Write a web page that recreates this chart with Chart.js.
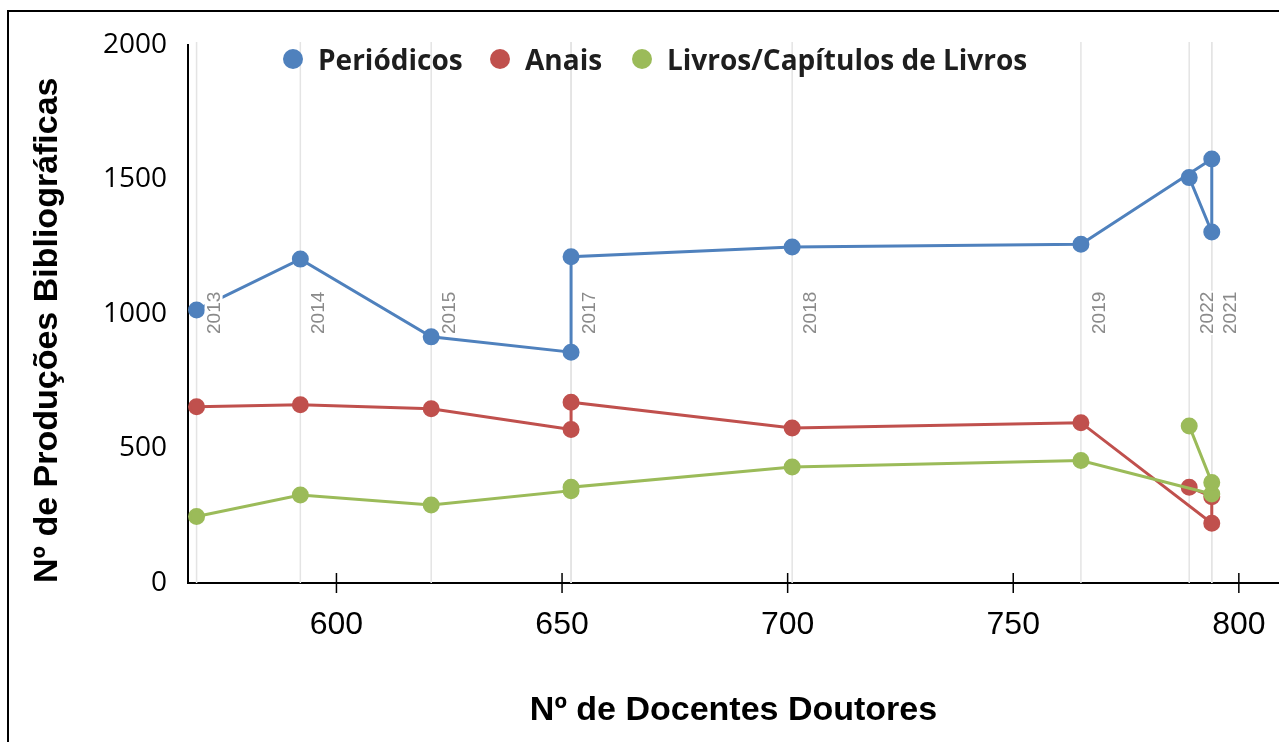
<!DOCTYPE html>
<html>
<head>
<meta charset="utf-8">
<script src="https://cdn.jsdelivr.net/npm/chart.js@4.4.0/dist/chart.umd.min.js"></script>
<style>
  body { margin: 0; background: #fff; overflow: hidden; }
  #wrap { position: relative; width: 1279px; height: 742px; }
  #frame { position: absolute; left: 7px; top: 10px; width: 1320px; height: 800px; border: 2px solid #000; }
  canvas { position: absolute; left: 0; top: 0; }
  .leg { position: absolute; top: 40px; height: 38px; display: flex; align-items: center;
         font-family: "Open Sans", sans-serif; font-weight: bold; font-size: 28px; color: #1e1e1e; }
  .leg i { display: inline-block; width: 20px; height: 20px; border-radius: 50%; margin-right: 15px; }
</style>
</head>
<body>
<div id="wrap">
  <div id="frame"></div>
  <canvas id="myChart" width="1279" height="742"></canvas>
  <div class="leg" style="left:283px"><i style="background:#4f81bd"></i>Periódicos</div>
  <div class="leg" style="left:490px"><i style="background:#c0504d"></i>Anais</div>
  <div class="leg" style="left:632px"><i style="background:#9bbb59"></i>Livros/Capítulos de Livros</div>
</div>
<script>
const ctx = document.getElementById('myChart');

// anos e nº de docentes doutores (eixo x)
const anos = ['2013', '2014', '2015', '2016', '2017', '2018', '2019', '2020', '2021', '2022'];
const docentes = [569, 592, 621, 652, 652, 701, 765, 794, 794, 789];

// produções bibliográficas
const periodicos = [1015, 1204, 915, 858, 1213, 1249, 1259, 1576, 1305, 1507];
const anais = [655, 663, 648, 571, 672, 576, 596, 222, 321, 356];
const livros = [247, 327, 290, 343, 356, 431, 455, 331, 374, 584];

const xTicks = [600, 650, 700, 750, 800];
const yTicks = [0, 500, 1000, 1500, 2000];

const toPoints = vals => vals.map((v, i) => ({ x: docentes[i], y: v }));

const mkSet = (label, vals, color, order) => ({
  label: label,
  data: toPoints(vals),
  borderColor: color,
  backgroundColor: color,
  pointBackgroundColor: color,
  pointBorderColor: color,
  borderWidth: 3,
  pointRadius: 7,
  pointHoverRadius: 7,
  tension: 0,
  order: order
});

// linhas verticais por ano + marcas do eixo x
const yearLines = {
  id: 'yearLines',
  beforeDatasetsDraw(chart) {
    const c = chart.ctx, xs = chart.scales.x, a = chart.chartArea;
    c.save();
    c.strokeStyle = '#e4e4e4';
    c.lineWidth = 1.5;
    docentes.forEach(d => {
      const px = xs.getPixelForValue(d);
      c.beginPath(); c.moveTo(px, a.top - 3); c.lineTo(px, a.bottom); c.stroke();
    });
    c.restore();
  },
  afterDatasetsDraw(chart) {
    const c = chart.ctx, xs = chart.scales.x, a = chart.chartArea;
    c.save();
    c.font = '19px "Liberation Sans", Arial, sans-serif';
    docentes.forEach((d, i) => {
      if (i < docentes.length - 1 && docentes[i + 1] === d) return;
      const px = xs.getPixelForValue(d);
      c.save();
      c.translate(px + 9, 334);
      c.rotate(-Math.PI / 2);
      const w = c.measureText(anos[i]).width;
      c.fillStyle = '#fff';
      c.fillRect(-1, -1, w + 2, 18);
      c.fillStyle = '#8a8a8a';
      c.textAlign = 'left';
      c.textBaseline = 'top';
      c.fillText(anos[i], 0, 0);
      c.restore();
    });
    // marcas cruzando o eixo x
    c.strokeStyle = '#000';
    c.lineWidth = 1.5;
    xTicks.forEach(v => {
      const px = xs.getPixelForValue(v);
      c.beginPath(); c.moveTo(px, a.bottom - 10); c.lineTo(px, a.bottom + 10); c.stroke();
    });
    c.restore();
  }
};

const chart = new Chart(ctx, {
  type: 'line',
  data: {
    datasets: [
      mkSet('Periódicos', periodicos, '#4f81bd', 1),
      mkSet('Anais', anais, '#c0504d', 2),
      mkSet('Livros/Capítulos de Livros', livros, '#9bbb59', 0)
    ]
  },
  options: {
    responsive: false,
    animation: false,
    layout: { autoPadding: false, padding: { top: 45, left: 0, right: 0, bottom: 0 } },
    plugins: { legend: { display: false }, tooltip: { enabled: false } },
    scales: {
      x: {
        type: 'linear',
        min: 567.1,
        max: 808.9,
        afterBuildTicks: s => { s.ticks = xTicks.map(v => ({ value: v })); },
        afterFit: s => { s.height = 159; s.paddingLeft = 0; s.paddingRight = 0; },
        grid: { display: false, drawTicks: false },
        border: { display: true, color: '#000', width: 2 },
        ticks: {
          padding: 23,
          color: '#000',
          font: { family: '"Liberation Sans", Arial, sans-serif', size: 32 }
        },
        title: {
          display: true,
          text: 'Nº de Docentes Doutores',
          color: '#000',
          padding: { top: 0, bottom: 11 },
          font: { family: '"Liberation Sans", Arial, sans-serif', size: 34, weight: 'bold' }
        }
      },
      y: {
        min: 0,
        max: 2000,
        afterBuildTicks: s => { s.ticks = yTicks.map(v => ({ value: v })); },
        afterFit: s => { s.width = 188; },
        grid: { display: false, drawTicks: false },
        border: { display: true, color: '#000', width: 2 },
        ticks: {
          padding: 21,
          color: '#000',
          callback: v => String(v),
          font: { family: '"Open Sans", sans-serif', size: 28 }
        },
        title: {
          display: true,
          text: 'Nº de Produções Bibliográficas',
          align: 'start',
          color: '#000',
          padding: { top: 27, bottom: 0 },
          font: { family: '"Liberation Sans", Arial, sans-serif', size: 34, weight: 'bold' }
        }
      }
    }
  },
  plugins: [yearLines]
});
</script>
</body>
</html>
